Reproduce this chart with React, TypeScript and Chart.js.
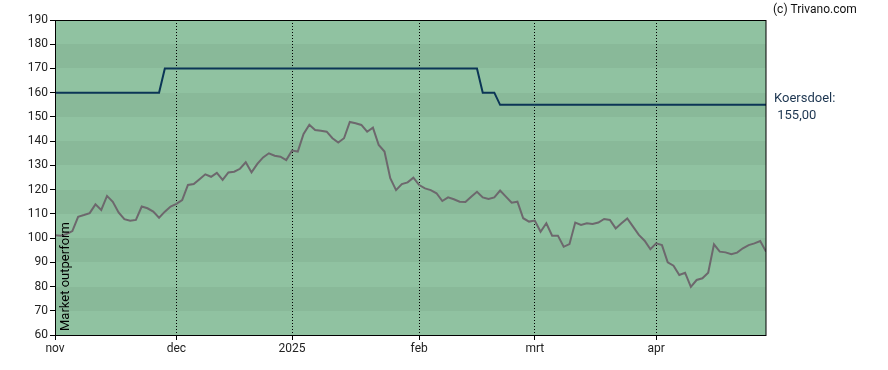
import React, { useEffect, useRef } from 'react';
import { Chart, registerables } from 'chart.js';

Chart.register(...registerables);

// X axis: trading days (index), month starts with their labels
const monthLabels = ['nov', 'dec', '2025', 'feb', 'mrt', 'apr'];
const monthStartIndex = [0, 21, 41, 63, 83, 104];
const lastIndex = 123;

// Y axis
const yMin = 60;
const yMax = 190;
const yStep = 10;

// Relative performance line (one value per trading day)
const performance = [
  101.2, 101.0, 101.7, 102.9, 108.8, 109.5, 110.3, 113.9, 111.6, 117.4,
  115.0, 110.6, 107.8, 107.2, 107.5, 113.0, 112.3, 110.9, 108.4, 110.9,
  113.0, 114.1, 115.7, 121.9, 122.3, 124.3, 126.3, 125.3, 126.9, 124.0,
  127.1, 127.4, 128.6, 131.3, 127.1, 130.6, 133.3, 135.0, 134.0, 133.6,
  132.2, 136.1, 135.7, 143.0, 146.8, 144.6, 144.3, 143.9, 141.2, 139.4,
  141.2, 147.9, 147.4, 146.7, 143.9, 145.6, 138.4, 135.7, 124.7, 119.8,
  122.3, 123.0, 124.9, 121.9, 120.5, 119.8, 118.5, 115.3, 116.8, 116.0,
  115.0, 114.9, 117.1, 119.1, 116.8, 116.1, 116.8, 119.6, 117.1, 114.6,
  115.0, 108.2, 106.8, 107.2, 102.6, 106.1, 101.0, 101.0, 96.4, 97.5,
  106.4, 105.4, 106.1, 105.8, 106.4, 107.9, 107.5, 104.0, 106.1, 108.1,
  104.7, 101.3, 98.9, 95.4, 97.8, 97.1, 90.0, 88.6, 84.8, 85.7,
  79.9, 82.7, 83.4, 85.7, 97.4, 94.4, 94.1, 93.3, 94.0, 95.8,
  97.1, 97.8, 98.8, 94.4,
];

// Price target (koersdoel) change points
const koersdoelIndex = [0, 18, 19, 73, 74, 76, 77, 123];
const koersdoelValues = [160, 160, 170, 170, 160, 160, 155, 155];

const sideLabel = 'Koersdoel:';
const verticalLabel = 'Market outperform';
const copyright = '(c) Trivano.com';

const LIGHT = '#90c2a1';
const DARK = '#89b999';
const FONT = 'Roboto';

const bandsPlugin = {
  id: 'bands',
  beforeDraw(chart: any) {
    const { ctx, chartArea: a, scales } = chart;
    const y = scales.y;
    ctx.save();
    let k = 0;
    const left = Math.round(a.left);
    const right = Math.round(a.right);
    for (let v = yMax; v > yMin; v -= yStep) {
      const top = Math.round(y.getPixelForValue(v));
      const bot = Math.round(y.getPixelForValue(v - yStep));
      ctx.fillStyle = k % 2 === 0 ? LIGHT : DARK;
      ctx.fillRect(left, top, right - left, bot - top);
      k++;
    }
    ctx.restore();
  },
};

const framePlugin = {
  id: 'frame',
  afterDatasetsDraw(chart: any) {
    const { ctx, chartArea: a } = chart;
    ctx.save();
    ctx.strokeStyle = '#000';
    ctx.lineWidth = 1;
    ctx.strokeRect(
      Math.round(a.left) + 0.5,
      Math.round(a.top) + 0.5,
      Math.round(a.right) - Math.round(a.left) - 0.5,
      Math.round(a.bottom) - Math.round(a.top)
    );
    ctx.restore();
  },
  afterDraw(chart: any) {
    const { ctx, chartArea: a, scales } = chart;
    const y = scales.y;
    ctx.save();
    // vertical label
    ctx.fillStyle = '#000';
    ctx.font = `13px ${FONT}`;
    ctx.translate(a.left + 13.5, a.bottom - 4);
    ctx.rotate(-Math.PI / 2);
    ctx.textAlign = 'left';
    ctx.textBaseline = 'alphabetic';
    ctx.fillText(verticalLabel, 0, 0);
    ctx.restore();

    ctx.save();
    const last = koersdoelValues[koersdoelValues.length - 1];
    const py = y.getPixelForValue(last);
    ctx.fillStyle = '#1c3550';
    ctx.font = `13px ${FONT}`;
    ctx.textAlign = 'left';
    ctx.textBaseline = 'alphabetic';
    ctx.fillText(sideLabel, a.right + 8, py - 3);
    ctx.fillText(' ' + last.toFixed(2).replace('.', ','), a.right + 8, py + 14);
    ctx.fillStyle = '#111';
    ctx.font = `12px ${FONT}`;
    ctx.fillText(copyright, a.right + 7, 13);
    ctx.restore();
  },
};

export default function App() {
  const ref = useRef<HTMLCanvasElement | null>(null);

  useEffect(() => {
    if (!ref.current) return;
    const chart = new Chart(ref.current, {
      type: 'line',
      data: {
        datasets: [
          {
            data: koersdoelIndex.map((x, i) => ({ x, y: koersdoelValues[i] })),
            borderColor: '#0b3556',
            borderWidth: 2,
            pointRadius: 0,
            tension: 0,
          },
          {
            data: performance.map((v, i) => ({ x: i, y: v })),
            borderColor: '#6d686d',
            borderWidth: 2,
            pointRadius: 0,
            tension: 0,
          },
        ],
      },
      options: {
        animation: false,
        responsive: false,
        devicePixelRatio: 1,
        layout: { padding: { top: 20, right: 122, left: 0, bottom: 0 } },
        plugins: { legend: { display: false }, tooltip: { enabled: false } },
        scales: {
          x: {
            type: 'linear',
            min: 0,
            max: lastIndex,
            afterBuildTicks: (s: any) => {
              s.ticks = monthStartIndex.map((v) => ({ value: v }));
            },
            afterFit: (s: any) => {
              s.height = 35;
            },
            ticks: {
              autoSkip: false,
              maxRotation: 0,
              padding: 2,
              color: '#222',
              font: { family: FONT, size: 12 },
              callback: (_v: any, i: number) => monthLabels[i],
            },
            grid: {
              color: '#000',
              lineWidth: 1,
              tickLength: 5,
              tickColor: '#000',
              tickBorderDash: [],
            },
            border: { display: false, dash: [1, 2] },
          },
          y: {
            min: yMin,
            max: yMax,
            afterFit: (s: any) => {
              s.width = 55;
            },
            ticks: {
              stepSize: yStep,
              padding: 2,
              color: '#222',
              font: { family: FONT, size: 12 },
            },
            grid: {
              drawOnChartArea: false,
              tickLength: 5,
              color: '#000',
              tickColor: '#000',
            },
            border: { display: false },
          },
        },
      },
      plugins: [bandsPlugin, framePlugin],
    });
    return () => chart.destroy();
  }, []);

  return (
    <div style={{ position: 'absolute', left: 0, top: 0, width: 888, height: 370 }}>
      <canvas ref={ref} width={888} height={370} style={{ display: 'block' }} />
    </div>
  );
}
